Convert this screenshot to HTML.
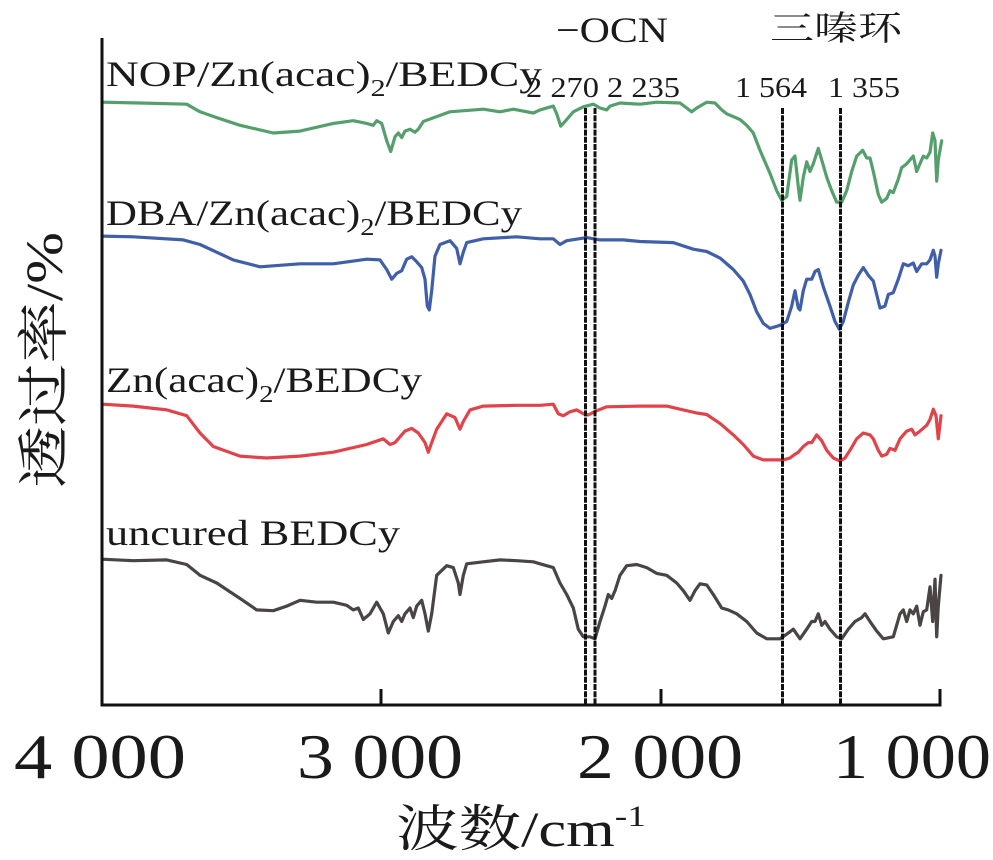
<!DOCTYPE html>
<html><head><meta charset="utf-8"><style>
html,body{margin:0;padding:0;background:#fff}
svg{display:block}
text{font-family:"Liberation Serif","Noto Serif CJK SC",serif;fill:#1a1a1a}
</style></head><body>
<svg id="s" width="993" height="860" viewBox="0 0 993 860" xmlns="http://www.w3.org/2000/svg">
<g id="curves" fill="none" stroke-width="3.2" stroke-linejoin="round" stroke-linecap="round"></g>
<g stroke="#111" stroke-width="3" stroke-dasharray="6 1.2">
<line x1="585.5" y1="108" x2="585.5" y2="705"/>
<line x1="595" y1="108" x2="595" y2="705"/>
<line x1="782.5" y1="108" x2="782.5" y2="705"/>
<line x1="840.5" y1="108" x2="840.5" y2="705"/>
</g>
<g stroke="#111" stroke-width="3" fill="none">
<line x1="102" y1="38" x2="102" y2="706"/>
<line x1="100.5" y1="705" x2="941.5" y2="705"/>
<line x1="381" y1="705" x2="381" y2="689"/>
<line x1="661" y1="705" x2="661" y2="689"/>
<line x1="940" y1="705" x2="940" y2="689"/>
</g>
<text x="106" y="86" font-size="36" textLength="436" lengthAdjust="spacingAndGlyphs">NOP/Zn(acac)<tspan font-size="24" dy="10">2</tspan><tspan dy="-10">/BEDCy</tspan></text>
<text x="106" y="225" font-size="36" textLength="416" lengthAdjust="spacingAndGlyphs">DBA/Zn(acac)<tspan font-size="24" dy="10">2</tspan><tspan dy="-10">/BEDCy</tspan></text>
<text x="106" y="392" font-size="36" textLength="316" lengthAdjust="spacingAndGlyphs">Zn(acac)<tspan font-size="24" dy="10">2</tspan><tspan dy="-10">/BEDCy</tspan></text>
<text x="106" y="545" font-size="36" textLength="294" lengthAdjust="spacingAndGlyphs">uncured BEDCy</text>
<text x="526" y="97" font-size="28" textLength="154" lengthAdjust="spacingAndGlyphs">2 270 2 235</text>
<text x="735" y="97" font-size="28" textLength="72" lengthAdjust="spacingAndGlyphs">1 564</text>
<text x="828" y="97" font-size="28" textLength="72" lengthAdjust="spacingAndGlyphs">1 355</text>
<text x="556" y="42" font-size="36" textLength="112" lengthAdjust="spacingAndGlyphs">−OCN</text>
<text x="770" y="40" font-size="34" textLength="132" lengthAdjust="spacingAndGlyphs">三嗪环</text>
<g font-size="64" text-anchor="middle">
<text x="100" y="778" textLength="172" lengthAdjust="spacingAndGlyphs">4 000</text>
<text x="380" y="778" textLength="166" lengthAdjust="spacingAndGlyphs">3 000</text>
<text x="660" y="778" textLength="166" lengthAdjust="spacingAndGlyphs">2 000</text>
<text x="912" y="778" textLength="158" lengthAdjust="spacingAndGlyphs">1 000</text>
</g>
<text x="396" y="846" font-size="50" textLength="250" lengthAdjust="spacingAndGlyphs">波数/cm<tspan font-size="30" dy="-20">-1</tspan></text>
<text transform="translate(62,488) rotate(-90)" font-size="52" textLength="256" lengthAdjust="spacingAndGlyphs">透过率/%</text>
</svg>
<script>
var G1=[[0,70],[120,72],[260,75],[300,95],[350,110],[420,130],[520,150],[600,145],[700,125],[760,118],[800,125],[820,130],[830,118],[845,125],[860,170],[872,198],[885,160],[895,150],[905,162],[915,145],[930,140],[945,148],[955,140],[970,120],[1050,95],[1150,88],[1200,95],[1240,88],[1300,98],[1350,80]];
var G2=[[0,90],[40,80],[50,100],[62,132],[75,120],[100,95],[130,82],[160,75],[180,85],[200,90],[210,80],[240,72],[300,75],[350,70],[420,72],[440,85],[455,95],[470,85],[500,70],[525,72],[545,90],[560,100],[600,115],[620,130],[640,150],[660,195],[690,255],[710,300],[725,325],[740,315],[755,220],[765,210],[775,290],[780,325],[790,265],[800,225],[810,250],[820,230],[835,190],[845,220],[860,265],[875,300],[890,330],[905,330],[920,300],[935,250],[950,210],[968,195],[980,215],[990,215],[1000,250],[1015,310],[1025,330],[1040,320],[1050,300],[1060,305],[1075,270],[1085,240],[1100,230],[1110,220],[1120,210],[1130,250],[1140,230],[1150,210],[1160,215],[1170,200],[1178,150],[1185,170],[1190,275],[1195,220],[1205,170]];
var B1=[[0,418],[100,420],[250,428],[300,440],[400,480],[480,498],[600,490],[700,490],[800,478],[840,480],[860,505],[875,530],[890,515],[905,508],[920,478],[935,472],[950,485],[965,500],[975,530],[982,600],[988,610],[995,560],[1005,470],[1020,440],[1050,430],[1070,450],[1080,490],[1090,460],[1100,435],[1150,425],[1250,420],[1350,425]];
var B2=[[0,425],[40,425],[60,440],[80,430],[140,422],[180,428],[250,428],[300,432],[400,435],[460,452],[500,458],[540,475],[580,505],[610,535],[630,570],[650,615],[670,645],[690,658],[720,650],[740,640],[755,600],[765,560],[775,605],[780,610],[790,560],[800,530],[815,530],[825,510],[835,505],[850,550],[870,600],[885,640],[898,660],[910,640],[925,590],[940,545],[955,520],[970,500],[985,520],[1000,535],[1010,570],[1020,605],[1035,600],[1045,570],[1060,565],[1075,530],[1090,490],[1105,495],[1120,488],[1130,510],[1145,490],[1160,490],[1170,480],[1180,455],[1185,470],[1190,525],[1195,490],[1203,455]];
var R1=[[0,855],[100,860],[200,870],[260,885],[300,930],[340,965],[420,990],[500,995],[600,990],[700,980],[800,960],[850,945],[870,960],[885,955],[900,940],[915,925],[935,918],[955,930],[975,955],[985,980],[995,955],[1010,920],[1040,880],[1065,890],[1080,920],[1090,900],[1110,870],[1150,860],[1250,858],[1350,855]];
var R2=[[0,858],[40,855],[55,880],[70,885],[90,875],[110,870],[130,880],[145,883],[170,872],[200,862],[300,860],[380,860],[430,870],[470,878],[500,882],[540,905],[580,935],[610,960],[640,990],[670,1000],[730,1000],[750,995],[765,985],[775,980],[790,965],[805,955],[815,955],[830,935],[845,950],[860,975],[880,995],[900,1003],[915,995],[930,975],[950,945],[970,930],[990,935],[1000,945],[1015,975],[1025,990],[1040,985],[1050,970],[1065,975],[1080,945],[1100,925],[1115,920],[1125,935],[1140,925],[1160,910],[1170,895],[1180,868],[1188,885],[1195,945],[1203,885]];
var K1=[[0,1258],[100,1262],[200,1260],[260,1272],[300,1300],[350,1320],[420,1360],[470,1390],[520,1392],[560,1380],[600,1365],[650,1370],[700,1370],[740,1378],[760,1390],[775,1385],[790,1415],[810,1400],[830,1370],[850,1400],[865,1450],[880,1420],[895,1405],[905,1420],[915,1400],[930,1385],[940,1410],[950,1380],[965,1365],[975,1400],[985,1445],[995,1400],[1010,1300],[1040,1275],[1060,1280],[1075,1320],[1080,1350],[1090,1300],[1100,1270],[1150,1265],[1200,1260],[1250,1262],[1300,1265],[1350,1280]];
var K2=[[0,1270],[40,1280],[60,1320],[80,1350],[100,1385],[115,1440],[130,1460],[150,1460],[165,1465],[180,1420],[195,1380],[205,1350],[215,1360],[225,1340],[240,1300],[260,1275],[290,1272],[320,1280],[350,1295],[380,1300],[410,1320],[430,1340],[450,1365],[465,1340],[480,1322],[500,1325],[520,1350],[545,1385],[565,1390],[590,1400],[620,1420],[650,1450],[680,1465],[720,1465],[745,1450],[760,1440],[780,1465],[800,1440],[815,1420],[825,1420],[835,1400],[845,1430],[855,1420],[870,1440],[890,1460],[905,1465],[925,1440],[945,1420],[965,1410],[975,1400],[990,1420],[1010,1445],[1030,1465],[1060,1460],[1080,1400],[1090,1390],[1100,1420],[1110,1390],[1120,1400],[1130,1380],[1140,1430],[1150,1395],[1160,1390],[1170,1330],[1178,1420],[1185,1310],[1190,1460],[1195,1380],[1203,1300]];
function conv(a,x0){return a.map(function(p){return [x0+p[0]/3,103+(p[1]-72)/2.6];});}
function build(a,b){var p=conv(a,100).filter(function(q){return q[0]<540;}).concat(conv(b,540));
p[0][0]=102;return "M"+p.map(function(q){return q[0].toFixed(1)+","+q[1].toFixed(1);}).join("L");}
var g=document.getElementById("curves");
[[G1,G2,"#559f6c"],[B1,B2,"#3f5fa8"],[R1,R2,"#e0434a"],[K1,K2,"#4a4444"]].forEach(function(c){
var e=document.createElementNS("http://www.w3.org/2000/svg","path");e.setAttribute("d",build(c[0],c[1]));e.setAttribute("stroke",c[2]);g.appendChild(e);});
</script>
</body></html>
